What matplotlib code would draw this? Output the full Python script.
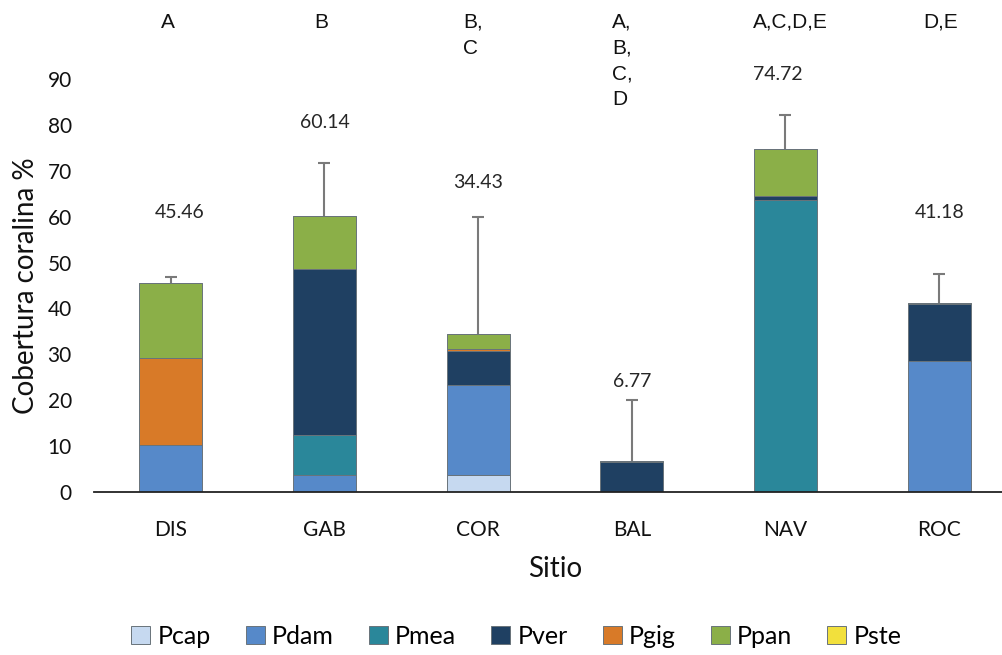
import matplotlib
matplotlib.use("Agg")
import matplotlib.pyplot as plt
from matplotlib import font_manager
import numpy as np

# Sites and coral species
sites = ["DIS", "GAB", "COR", "BAL", "NAV", "ROC"]
species = ["Pcap", "Pdam", "Pmea", "Pver", "Pgig", "Ppan", "Pste"]

# Coral cover (%) per species at each site
pcap = [0.0, 0.0, 3.7, 0.0, 0.0, 0.0]
pdam = [10.2, 3.8, 19.7, 0.0, 0.0, 28.6]
pmea = [0.0, 8.6, 0.0, 0.0, 63.6, 0.0]
pver = [0.0, 36.1, 7.4, 6.6, 0.8, 12.3]
pgig = [18.9, 0.0, 0.4, 0.0, 0.0, 0.0]
ppan = [16.36, 11.64, 3.23, 0.1, 10.32, 0.28]
pste = [0.0, 0.0, 0.0, 0.07, 0.0, 0.0]

totals = [45.46, 60.14, 34.43, 6.77, 74.72, 41.18]
errors = [1.5, 11.5, 25.5, 13.2, 7.5, 6.4]
groups = ["A", "B", "B,\nC", "A,\nB,\nC,\nD", "A,C,D,E", "D,E"]

series = [pcap, pdam, pmea, pver, pgig, ppan, pste]
colors = ["#C6D9F0", "#5689C9", "#2A879A", "#1F4062", "#D87A28", "#8BAF48", "#F2E03C"]

installed = {f.name for f in font_manager.fontManager.ttflist}
narrow = "Liberation Sans Narrow" if "Liberation Sans Narrow" in installed else "Liberation Sans"
letter_size = 16 if narrow == "Liberation Sans Narrow" else 15

W, H = 1003, 655
fig = plt.figure(figsize=(W / 100, H / 100), dpi=100)
ax = fig.add_axes([94 / W, 1 - 492 / H, 922 / W, (492 - 79) / H])

font = "Lato"
x = np.arange(len(sites))
bw = 0.41
bottom = np.zeros(len(sites))
for name, vals, c in zip(species, series, colors):
    v = np.array(vals)
    ax.bar(x, v, bw, bottom=bottom, color=c, edgecolor="#69737a",
           linewidth=0.7, label=name, zorder=2)
    bottom += v

# Upper-only error bars: hide the cap drawn at the bar top
_, caps, _ = ax.errorbar(x, totals, yerr=[np.zeros(len(x)), errors], fmt="none",
                         ecolor="#7a7a7a", elinewidth=1.5, capsize=4.5,
                         capthick=1.5, zorder=3)
for cap in caps:
    if np.allclose(cap.get_ydata(), totals):
        cap.set_visible(False)

# Mean cover labels above each bar
label_y = [61.0, 80.6, 67.5, 24.0, 91.0, 61.0]
label_dx = [0.06, 0.0, 0.0, 0.0, -0.05, 0.0]
for xi, t, ly, dx in zip(x, totals, label_y, label_dx):
    ax.text(xi + dx, ly, f"{t:.2f}", ha="center", va="center", fontsize=14,
            family=font, color="#262626")

# Significance group letters
letter_dx = [-0.02, -0.02, -0.10, -0.13, 0.03, 0.01]
letter_ha = ["center", "center", "left", "left", "center", "center"]
for xi, g, dx, ha in zip(x, groups, letter_dx, letter_ha):
    ax.text(xi + dx, 104.4, g, ha=ha, va="top", fontsize=letter_size,
            family=[narrow, "Liberation Sans"], linespacing=1.44,
            clip_on=False, color="#111111")

ax.set_xlim(-0.5, len(sites) - 0.5)
ax.set_ylim(0, 90)
ax.set_yticks(np.arange(0, 91, 10))
ax.set_xticks(x)
ax.set_xticklabels(sites)
for lbl in ax.get_xticklabels() + ax.get_yticklabels():
    lbl.set_family(font)
    lbl.set_fontsize(15)
    lbl.set_color("#111111")
ax.tick_params(axis="both", length=0)
ax.tick_params(axis="y", pad=16)
ax.tick_params(axis="x", pad=20)
for s in ["top", "right", "left"]:
    ax.spines[s].set_visible(False)
ax.spines["bottom"].set_color("#222222")
ax.spines["bottom"].set_linewidth(1.3)

ax.set_ylabel("Cobertura coralina %", family=font, fontsize=20, labelpad=6,
              color="#111111")
ax.set_xlabel("Sitio", family=font, fontsize=20, labelpad=12, color="#111111")

fig.legend(loc="center", bbox_to_anchor=(0.515, 1 - 636 / H), ncol=7,
           frameon=False, prop={"family": font, "size": 18},
           handlelength=0.75, handleheight=0.75, handletextpad=0.3,
           columnspacing=1.4)

fig.savefig("out.png", dpi=100)
